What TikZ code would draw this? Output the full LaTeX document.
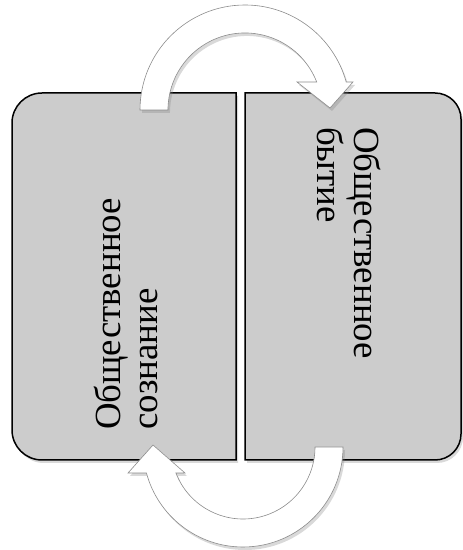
\documentclass[tikz,border=0pt]{standalone}
\usepackage{fontspec}
\setmainfont{Liberation Serif}
\newfontfamily\rutimes{Liberation Serif}
\usetikzlibrary{shadows}

\tikzstyle{half} = [draw=black,line width=1.5bp,fill=black!20,drop shadow={shadow xshift=2bp,shadow yshift=-3bp,opacity=0.3}]
\tikzstyle{turn} = [draw=black!45,line width=0.6bp,fill=white,drop shadow={shadow xshift=2bp,shadow yshift=-3bp,opacity=0.3}]
\tikzstyle{boxtext} = [align=left,inner sep=0pt,font=\rutimes\fontsize{37}{37}\selectfont]

\begin{document}
\begin{tikzpicture}[x=1bp,y=1bp]
	\useasboundingbox (0,0) rectangle (463,550);
	\draw [half] (236,457) [rounded corners=30bp] -- (12,457) -- (12,90) [sharp corners] -- (236,90) -- cycle;
	\draw [half] (245,90) [rounded corners=26bp] -- (461,90) -- (461,457) [sharp corners] -- (245,457) -- cycle;
	\node (soznanie) [boxtext,rotate=90,anchor=north west] at (94,120) {Общественное\\сознание};
	\node (bytie) [boxtext,rotate=-90,anchor=north west] at (381,423) {Общественное\\бытие};
	% upper turn
	\draw [turn] (140,440) arc [start angle=180,end angle=15.47,radius=105] -- (353,468) -- (330,442) -- (297,468) -- (316.7,468) arc [start angle=21.3,end angle=180,radius=77] -- cycle;
	% lower turn
	\draw [turn] (343,103) arc [start angle=0,end angle=-164.93,radius=100] -- (128,77) -- (153,105) -- (185,77) -- (175.9,77) arc [start angle=-158.83,end angle=0,radius=72] -- cycle;
\end{tikzpicture}
\end{document}
